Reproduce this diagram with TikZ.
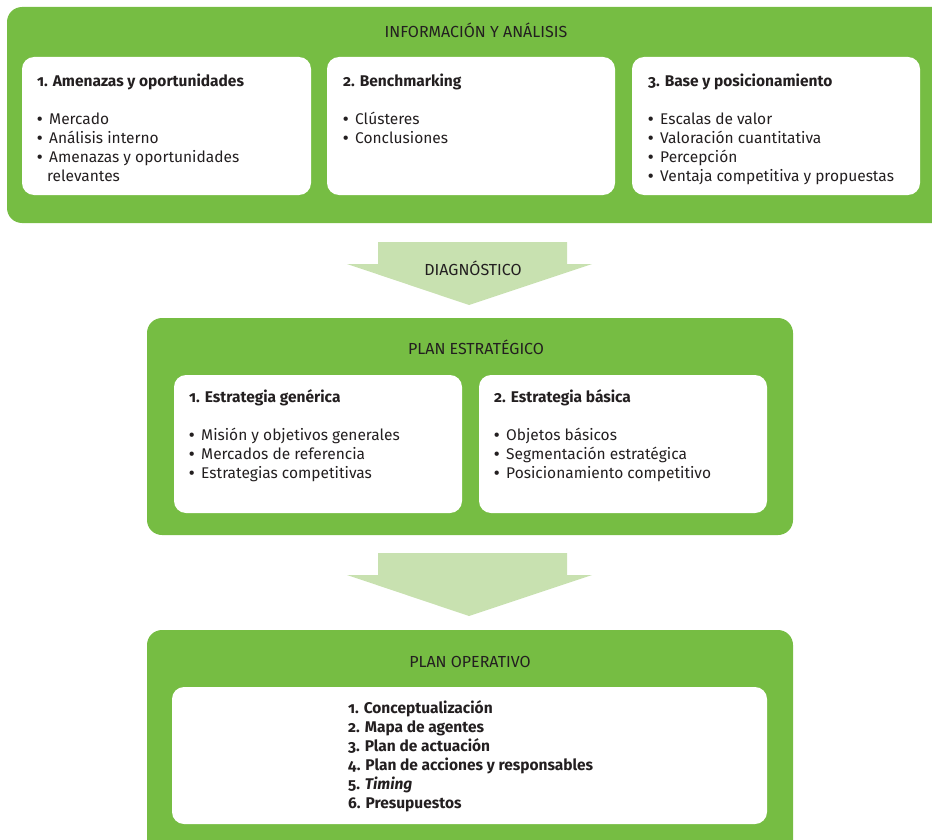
\documentclass[tikz,border=0pt]{standalone}
\usepackage{fontspec}
\setmainfont{Fira Sans}[Numbers=OldStyle]
\definecolor{grn}{HTML}{76BD43}
\definecolor{lgrn}{HTML}{C8E1B0}
\definecolor{txt}{HTML}{231F20}
\tikzset{
  panel/.style={fill=grn, draw=none, rounded corners=15pt, inner sep=0pt},
  card/.style={fill=white, draw=none, rounded corners=12pt, inner sep=0pt},
  bigarrow/.style={fill=lgrn, draw=none},
  ttl/.style={font=\fontsize{16}{19}\selectfont, text=txt, inner sep=0pt},
  hd/.style={font=\fontsize{15.5}{19}\selectfont\bfseries, text=txt, anchor=base west, inner sep=0pt},
  lst/.style={font=\fontsize{15.5}{19}\selectfont, text=txt, align=left, anchor=north west, inner sep=0pt},
}
\newcommand{\bul}{\makebox[12pt][l]{\bfseries •}}
\newcommand{\hang}{\hspace*{10pt}}
\begin{document}
\begin{tikzpicture}[x=1pt,y=-1pt]
\useasboundingbox (0,0) rectangle (932,840);
\clip (0,0) rectangle (932,840);
% panels
\path[panel] (7,7) rectangle (960,223);
\path[panel] (147,318) rectangle (793,535);
\path[panel] (147,630) rectangle (793,880);
% cards
\path[card] (22,57) rectangle (311,195);
\path[card] (327,57) rectangle (615,195);
\path[card] (632,57) rectangle (920,195);
\path[card] (174,375) rectangle (462,513);
\path[card] (479,375) rectangle (767,513);
\path[card] (172,687) rectangle (767,824);
% arrows
\path[bigarrow] (378,242) -- (567,242) -- (567,264) -- (592,264) -- (469,305) -- (347,264) -- (378,264) -- cycle;
\path[bigarrow] (378,553) -- (567,553) -- (567,575) -- (592,575) -- (469,616) -- (347,575) -- (378,575) -- cycle;
% titles
\node[ttl] (t1) at (476,30) {INFORMACIÓN Y ANÁLISIS};
\node[ttl] (t2) at (473,268) {DIAGNÓSTICO};
\node[ttl] (t3) at (476,347) {PLAN ESTRATÉGICO};
\node[ttl] (t4) at (470,662) {PLAN OPERATIVO};
% top cards
\node[hd] (h1) at (37,86.5) {1. Amenazas y oportunidades};
\node[lst] (l1) at (37,111) {\strut\bul Mercado\\\bul Análisis interno\\\bul Amenazas y oportunidades\\\hang relevantes};
\node[hd] (h2) at (343,86.5) {2. Benchmarking};
\node[lst] (l2) at (343,111) {\strut\bul Clústeres\\\bul Conclusiones};
\node[hd] (h3) at (648,86.5) {3. Base y posicionamiento};
\node[lst] (l3) at (648,111) {\strut\bul Escalas de valor\\\bul Valoración cuantitativa\\\bul Percepción\\\bul Ventaja competitiva y propuestas};
% middle cards
\node[hd] (h4) at (189,402.5) {1. Estrategia genérica};
\node[lst] (l4) at (189,427) {\strut\bul Misión y objetivos generales\\\bul Mercados de referencia\\\bul Estrategias competitivas};
\node[hd] (h5) at (494,402.5) {2. Estrategia básica};
\node[lst] (l5) at (494,427) {\strut\bul Objetos básicos\\\bul Segmentación estratégica\\\bul Posicionamiento competitivo};
% bottom card
\node[lst, font=\fontsize{15.5}{19}\selectfont\bfseries] (l6) at (348,700) {\strut 1. Conceptualización\\2. Mapa de agentes\\3. Plan de actuación\\4. Plan de acciones y responsables\\5. \textit{Timing}\\6. Presupuestos};
\end{tikzpicture}
\end{document}
